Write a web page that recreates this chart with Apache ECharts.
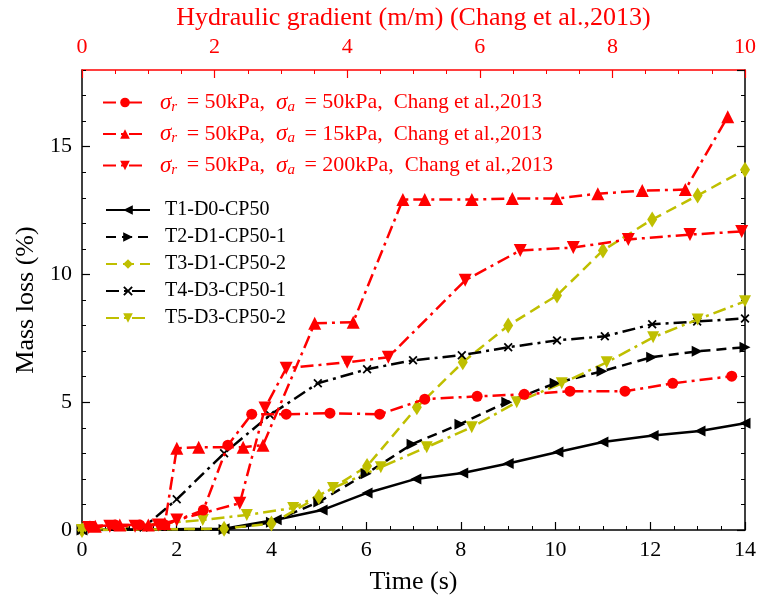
<!DOCTYPE html>
<html>
<head>
<meta charset="utf-8">
<script src="https://cdn.jsdelivr.net/npm/echarts/dist/echarts.min.js"></script>
<style>
html,body{margin:0;padding:0;background:#fff}
#main{width:763px;height:604px}
</style>
</head>
<body>
<div id="main"></div>
<script>
// test data: time (s) vs mass loss (%)
var t1Time = [0, 3.0, 4.1, 5.07, 6.02, 7.05, 8.04, 9.0, 10.05, 11.0, 12.06, 13.05, 14.0];
var t1Loss = [0, 0.05, 0.4, 0.78, 1.45, 2.0, 2.23, 2.6, 3.05, 3.44, 3.7, 3.87, 4.18];

var t2Time = [0, 3.0, 4.0, 5.0, 6.0, 6.97, 7.98, 8.97, 9.99, 10.98, 12.03, 12.99, 14.0];
var t2Loss = [0, 0.02, 0.3, 1.1, 2.2, 3.36, 4.14, 5.0, 5.74, 6.21, 6.76, 6.99, 7.15];

var t3Time = [0, 3.0, 4.0, 5.0, 6.02, 7.07, 8.04, 9.0, 10.03, 11.0, 12.04, 13.0, 14.0];
var t3Loss = [0, 0.05, 0.25, 1.3, 2.5, 4.8, 6.56, 8.0, 9.18, 10.94, 12.15, 13.09, 14.1];

var t4Time = [0, 1.3, 2.0, 3.0, 3.97, 4.98, 6.02, 6.99, 8.02, 9.0, 10.03, 11.04, 12.04, 12.99, 14.0];
var t4Loss = [0, 0.1, 1.2, 3.0, 4.5, 5.74, 6.29, 6.64, 6.84, 7.15, 7.42, 7.58, 8.05, 8.16, 8.28];

var t5Time = [0, 2.55, 3.48, 4.46, 5.3, 6.31, 7.28, 8.23, 9.18, 10.13, 11.08, 12.06, 13.0, 14.0];
var t5Loss = [0, 0.39, 0.59, 0.86, 1.64, 2.46, 3.24, 4.02, 5.0, 5.74, 6.56, 7.54, 8.24, 8.95];

// Chang et al. 2013: hydraulic gradient vs mass loss
var c50Grad = [0.12, 0.5, 0.87, 1.25, 1.83, 2.2, 2.56, 3.08, 3.74, 4.49, 5.17, 5.96, 6.67, 7.36, 8.19, 8.91, 9.8];
var c50Loss = [0.15, 0.2, 0.2, 0.2, 0.78, 3.32, 4.53, 4.53, 4.57, 4.53, 5.12, 5.23, 5.31, 5.43, 5.43, 5.74, 6.02];

var c15Grad = [0.2, 0.57, 1.0, 1.25, 1.43, 1.76, 2.43, 2.73, 3.51, 4.09, 4.84, 5.17, 5.88, 6.49, 7.16, 7.78, 8.45, 9.1, 9.74];
var c15Loss = [0.15, 0.2, 0.2, 0.25, 3.2, 3.24, 3.24, 3.32, 8.09, 8.13, 12.93, 12.93, 12.93, 12.97, 12.97, 13.16, 13.28, 13.32, 16.17];

var c200Grad = [0.1, 0.42, 0.8, 1.15, 1.43, 2.38, 2.76, 3.08, 4.0, 4.62, 5.78, 6.61, 7.41, 8.24, 9.17, 9.95];
var c200Loss = [0.1, 0.15, 0.15, 0.2, 0.39, 1.05, 4.77, 6.33, 6.56, 6.76, 9.77, 10.94, 11.05, 11.37, 11.56, 11.68];

var testNames = ['T1-D0-CP50', 'T2-D1-CP50-1', 'T3-D1-CP50-2', 'T4-D3-CP50-1', 'T5-D3-CP50-2'];
var changSigmaA = ['50kPa', '15kPa', '200kPa'];
var changNames = changSigmaA.map(function (s) { return 'sa=' + s; });

var FONT = 'Liberation Serif';
var RED = '#ff0000';
var OLIVE = '#bfbf00';
var XMARK = 'path://M0,1.4L1.4,0L5,3.6L8.6,0L10,1.4L6.4,5L10,8.6L8.6,10L5,6.4L1.4,10L0,8.6L3.6,5Z';
var DASHDOT = [13, 5, 3, 5];

function pairs(xs, ys) {
    return xs.map(function (x, i) { return [x, ys[i]]; });
}

function testLine(name, xs, ys, color, dash, symbol, size, rotate) {
    return {
        name: name, type: 'line', xAxisIndex: 0, yAxisIndex: 0,
        data: pairs(xs, ys),
        symbol: symbol, symbolSize: size, symbolRotate: rotate || 0,
        itemStyle: { color: color },
        lineStyle: { color: color, width: 2.5, type: dash },
        z: 3
    };
}

function changLine(name, xs, ys, symbol, size, rotate) {
    return {
        name: name, type: 'line', xAxisIndex: 1, yAxisIndex: 0,
        data: pairs(xs, ys),
        symbol: symbol, symbolSize: size, symbolRotate: rotate || 0,
        itemStyle: { color: RED },
        lineStyle: { color: RED, width: 2.5, type: DASHDOT },
        z: 4
    };
}

var myChart = echarts.init(document.getElementById('main'));

var blackAxis = { show: true, onZero: false, lineStyle: { color: '#000', width: 1.5 } };

myChart.setOption({
    animation: false,
    backgroundColor: '#fff',
    textStyle: { fontFamily: FONT },
    grid: { left: 82, right: 18, top: 70, bottom: 74 },
    xAxis: [
        {
            type: 'value', position: 'bottom', min: 0, max: 14, interval: 2,
            name: 'Time (s)', nameLocation: 'middle', nameGap: 39,
            nameTextStyle: { fontFamily: FONT, fontSize: 26, color: '#000' },
            axisLine: blackAxis,
            axisTick: { inside: true, length: 8, lineStyle: { color: '#000', width: 1.2 } },
            minorTick: { show: true, splitNumber: 4, length: 4, lineStyle: { color: '#000', width: 1 } },
            axisLabel: { fontFamily: FONT, fontSize: 22, color: '#000', margin: 9 },
            splitLine: { show: false }
        },
        {
            type: 'value', position: 'top', min: 0, max: 10, interval: 2,
            name: 'Hydraulic gradient (m/m) (Chang et al.,2013)', nameLocation: 'middle', nameGap: 39,
            nameTextStyle: { fontFamily: FONT, fontSize: 26, color: RED },
            axisLine: { show: true, onZero: false, lineStyle: { color: RED, width: 1.5 } },
            axisTick: { inside: true, length: 8, lineStyle: { color: RED, width: 1.2 } },
            minorTick: { show: true, splitNumber: 4, length: 4, lineStyle: { color: RED, width: 1 } },
            axisLabel: { fontFamily: FONT, fontSize: 22, color: RED, margin: 12 },
            splitLine: { show: false }
        }
    ],
    yAxis: [
        {
            type: 'value', position: 'left', min: 0, max: 18, interval: 5,
            name: 'Mass loss (%)', nameLocation: 'middle', nameGap: 40,
            nameTextStyle: { fontFamily: FONT, fontSize: 26, color: '#000' },
            axisLine: blackAxis,
            axisTick: { inside: true, length: 8, lineStyle: { color: '#000', width: 1.2 } },
            axisLabel: { fontFamily: FONT, fontSize: 22, color: '#000', margin: 10, showMaxLabel: false },
            splitLine: { show: false }
        },
        {
            type: 'value', position: 'left', min: 0, max: 18, interval: 1,
            axisLine: { show: false, onZero: false },
            axisTick: { inside: true, length: 4, lineStyle: { color: '#000', width: 1 } },
            axisLabel: { show: false }, splitLine: { show: false }
        },
        {
            type: 'value', position: 'right', min: 0, max: 18, interval: 5,
            axisLine: blackAxis,
            axisTick: { inside: true, length: 8, lineStyle: { color: '#000', width: 1.2 } },
            axisLabel: { show: false }, splitLine: { show: false }
        },
        {
            type: 'value', position: 'right', min: 0, max: 18, interval: 1,
            axisLine: { show: false, onZero: false },
            axisTick: { inside: true, length: 4, lineStyle: { color: '#000', width: 1 } },
            axisLabel: { show: false }, splitLine: { show: false }
        }
    ],
    legend: [
        {
            data: changNames, orient: 'vertical', left: 97, top: 86,
            itemWidth: 44, itemHeight: 12, itemGap: 8,
            formatter: function (name) {
                var sa = name.replace('sa=', '');
                return '{g|σ}{s|r}{n| = 50kPa,  }{g|σ}{s|a}{n| = ' + sa + ',  }{c|Chang et al.,2013}';
            },
            textStyle: {
                color: RED, fontFamily: FONT, padding: [0, 0, 0, 8],
                rich: {
                    g: { fontFamily: FONT, fontStyle: 'italic', fontSize: 23, color: RED, lineHeight: 24 },
                    s: { fontFamily: FONT, fontStyle: 'italic', fontSize: 15, color: RED, lineHeight: 16, verticalAlign: 'bottom', padding: [0, 4, 0, 0] },
                    n: { fontFamily: FONT, fontSize: 22, color: RED, lineHeight: 24 },
                    c: { fontFamily: FONT, fontSize: 21, color: RED, lineHeight: 24 }
                }
            }
        },
        {
            data: testNames, orient: 'vertical', left: 100, top: 195,
            itemWidth: 44, itemHeight: 12, itemGap: 7,
            textStyle: { color: '#000', fontFamily: FONT, fontSize: 20, lineHeight: 20, padding: [0, 0, 0, 10] }
        }
    ],
    series: [
        testLine(testNames[0], t1Time, t1Loss, '#000', 'solid', 'triangle', 11, 90),
        testLine(testNames[1], t2Time, t2Loss, '#000', [10, 6], 'triangle', 11, -90),
        testLine(testNames[2], t3Time, t3Loss, OLIVE, [11, 6], 'diamond', [10, 16], 0),
        testLine(testNames[3], t4Time, t4Loss, '#000', DASHDOT, XMARK, 9, 0),
        testLine(testNames[4], t5Time, t5Loss, OLIVE, DASHDOT, 'triangle', 12, 180),
        changLine(changNames[0], c50Grad, c50Loss, 'circle', 11, 0),
        changLine(changNames[1], c15Grad, c15Loss, 'triangle', 13, 0),
        changLine(changNames[2], c200Grad, c200Loss, 'triangle', 13, 180)
    ]
});
</script>
</body>
</html>
